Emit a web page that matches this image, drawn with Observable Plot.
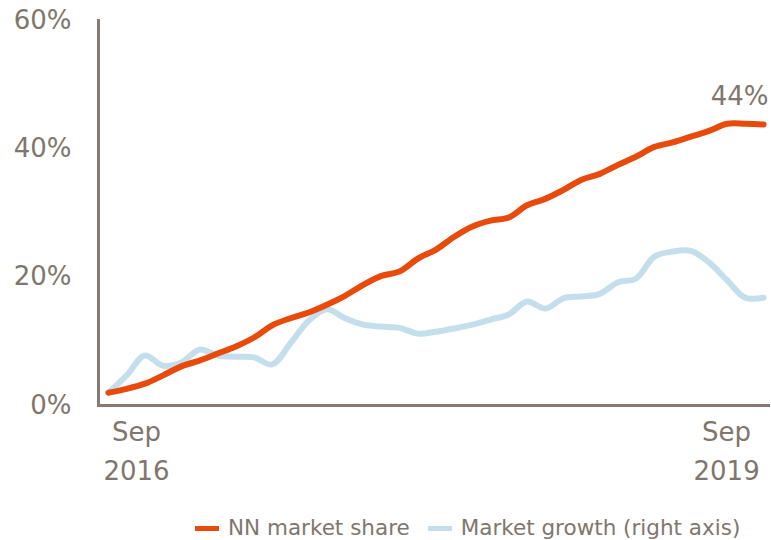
<!DOCTYPE html>
<html><head><meta charset="utf-8">
<script src="https://cdn.jsdelivr.net/npm/d3@7"></script>
<script src="https://cdn.jsdelivr.net/npm/@observablehq/plot@0.6"></script>
<style>
body{margin:0;background:#fff;font-family:"DejaVu Sans",Verdana,sans-serif;}
#chart{position:relative;width:771px;height:540px;overflow:hidden;}
.legend{position:absolute;left:195px;top:514px;display:flex;align-items:center;font-size:21.5px;line-height:28px;color:#7f766d;white-space:nowrap;}
.sw{display:inline-block;width:24px;height:5px;margin-right:9px;}
.item{display:flex;align-items:center;margin-right:18px;}
</style></head><body><div id="chart"></div>
<script>
// Monthly index: 0 = Sep 2016 ... 36 = Sep 2019
const monthIndex = [0,1,2,3,4,5,6,7,8,9,10,11,12,13,14,15,16,17,18,19,20,21,22,23,24,25,26,27,28,29,30,31,32,33,34,35,36];
const nnShare = [2.0,2.6,3.4,4.7,6.1,7.0,8.1,9.2,10.6,12.5,13.6,14.5,15.7,17.1,18.8,20.2,20.9,22.9,24.3,26.3,27.9,28.8,29.3,31.2,32.2,33.6,35.2,36.1,37.5,38.8,40.3,41.0,41.9,42.8,43.9,43.9,43.8];
const marketGrowth = [2.0,4.7,7.8,6.2,6.7,8.7,7.8,7.6,7.5,6.4,9.7,13.2,15.0,13.6,12.6,12.3,12.1,11.2,11.5,12.0,12.6,13.4,14.2,16.2,15.1,16.7,17.0,17.4,19.2,19.8,23.2,24.0,24.1,22.3,19.5,16.8,16.8];
const xTickMonths = [0, 36];
const xTickLabels = ["Sep\n2016", "Sep\n2019"];
const yTicks = [0, 20, 40, 60];
const seriesNames = ["NN market share", "Market growth (right axis)"];

const ORANGE = "#e84a0c", BLUE = "#c4dfeb", GREY = "#7f766d", AXIS = "#857b73";
const data = monthIndex.map((m, i) => ({m, share: nnShare[i], growth: marketGrowth[i]}));
const ticks = xTickMonths.map((m, i) => ({m, label: xTickLabels[i]}));
const last = data[data.length - 1];

const chart = Plot.plot({
  width: 771, height: 490,
  marginLeft: 98, marginRight: 1, marginTop: 20, marginBottom: 85,
  style: {fontFamily: '"DejaVu Sans", Verdana, sans-serif', fontSize: "26px", color: GREY, background: "#fff"},
  x: {domain: [-0.55, 36.38], axis: null},
  y: {domain: [0, 60], ticks: yTicks, tickFormat: d => d + "%", tickSize: 0, tickPadding: 27, label: null},
  marks: [
    Plot.frame({anchor: "left", stroke: AXIS, strokeWidth: 3}),
    Plot.ruleY([0], {stroke: AXIS, strokeWidth: 3}),
    Plot.line(data, {x: "m", y: "growth", stroke: BLUE, strokeWidth: 6, curve: "catmull-rom", strokeLinecap: "round"}),
    Plot.line(data, {x: "m", y: "share", stroke: ORANGE, strokeWidth: 6, curve: "catmull-rom", strokeLinecap: "round"}),
    Plot.text([last], {x: "m", y: "share", text: d => Math.round(d.share) + "%", textAnchor: "end", dx: 5, dy: -28, fontSize: 26, fill: GREY}),
    Plot.text([ticks[0]], {x: "m", y: () => 0, text: "label", textAnchor: "middle", lineAnchor: "top", dx: 28, dy: 8, lineHeight: 1.5, fontSize: 26, fill: GREY}),
    Plot.text([ticks[1]], {x: "m", y: () => 0, text: "label", textAnchor: "middle", lineAnchor: "top", dx: -37, dy: 8, lineHeight: 1.5, fontSize: 26, fill: GREY})
  ]
});
const root = document.getElementById("chart");
root.appendChild(chart);
const legend = document.createElement("div");
legend.className = "legend";
[[seriesNames[0], ORANGE], [seriesNames[1], BLUE]].forEach(([name, c]) => {
  const it = document.createElement("span"); it.className = "item";
  const sw = document.createElement("span"); sw.className = "sw"; sw.style.background = c;
  it.appendChild(sw); it.appendChild(document.createTextNode(name));
  legend.appendChild(it);
});
root.appendChild(legend);
</script></body></html>
